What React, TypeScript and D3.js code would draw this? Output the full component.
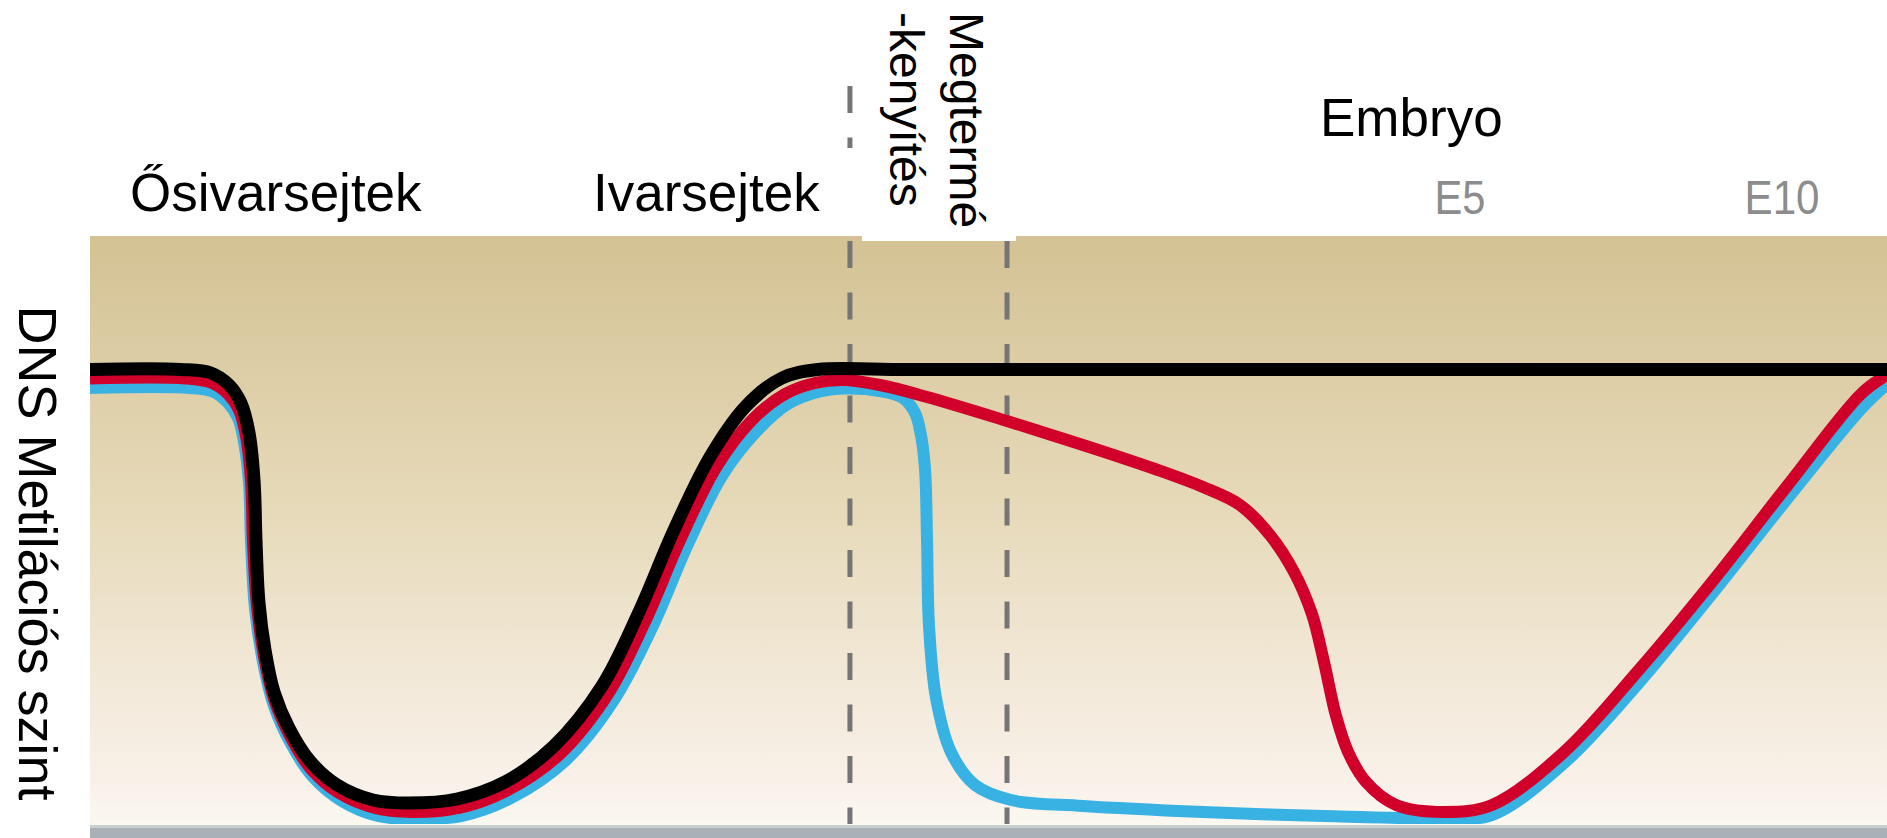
import React from "react";
import * as d3 from "d3";

const W = 1887;
const H = 838;

// ---- text / categories ----
const stageLabels = ["Ősivarsejtek", "Ivarsejtek", "Embryo"];
const fertLabel = ["Megtermé", "-kenyítés"];
const dayTicks = ["E5", "E10"];
const dayTickPos = [76.24, 94.16];
const yLabel = "DNS Metilációs szint";
const dividers = [42.29, 51.03];

// ---- series (x: developmental time 0-100, y: methylation level 0-100) ----
const blackX = [0, 5.06, 6.73, 7.74, 8.4, 8.85, 9.13, 9.24, 9.4, 9.74, 10.24, 11.07, 12.24, 13.75, 15.75, 17.75, 20.42, 23.09, 25.82, 28.49, 30.5, 32.5, 34.5, 36.51, 38.51, 40.51, 45.07, 100];
const blackY = [77.3, 77.3, 76.7, 74.66, 71.6, 66.5, 58.33, 47.96, 37.76, 29.59, 22.45, 16.33, 10.71, 6.63, 4.08, 3.57, 4.25, 7.14, 13.27, 23.47, 35.71, 50.0, 62.41, 71.09, 75.85, 77.3, 77.3, 77.3];

const redX = [0, 5.29, 6.79, 7.68, 8.29, 8.68, 8.96, 9.07, 9.29, 9.68, 10.24, 11.13, 12.3, 13.86, 15.86, 17.86, 20.53, 23.26, 26.15, 28.83, 30.88, 32.89, 34.89, 36.84, 38.68, 40.34, 41.85, 43.96, 46.58, 51.03, 55.26, 59.27, 61.94, 64.0, 65.66, 67.0, 68.0, 68.67, 69.34, 70.01, 71.01, 72.68, 75.35, 78.02, 82.03, 86.09, 90.26, 94.44, 98.61, 100];
const redY = [75.77, 75.77, 75.0, 73.13, 70.41, 65.99, 58.33, 47.96, 37.24, 28.57, 21.26, 14.97, 9.35, 5.27, 2.72, 2.04, 2.72, 5.78, 11.9, 22.11, 34.35, 48.64, 60.88, 68.71, 73.13, 75.0, 75.51, 74.66, 72.62, 68.54, 64.46, 60.37, 57.31, 54.25, 49.15, 42.86, 35.71, 27.55, 18.37, 12.24, 7.14, 3.23, 2.04, 3.23, 12.24, 25.85, 41.16, 57.48, 73.3, 76.36];

const blueX = [0, 5.56, 6.9, 7.68, 8.24, 8.57, 8.85, 8.96, 9.18, 9.63, 10.24, 11.19, 12.41, 14.02, 16.03, 17.97, 20.65, 23.43, 26.49, 29.16, 31.27, 33.28, 35.17, 37.06, 38.84, 40.51, 42.01, 43.96, 45.24, 45.91, 46.24, 46.47, 46.58, 46.69, 47.08, 47.91, 49.25, 51.25, 55.26, 61.94, 68.67, 75.35, 78.02, 82.03, 86.09, 90.26, 94.44, 98.61, 100];
const blueY = [74.15, 74.15, 73.47, 71.6, 69.05, 64.97, 57.99, 47.96, 36.73, 27.55, 20.07, 13.61, 7.99, 3.91, 1.36, 0.85, 1.36, 4.42, 10.88, 21.09, 33.33, 47.62, 59.18, 66.67, 71.43, 73.47, 74.06, 73.64, 72.45, 69.9, 66.16, 60.2, 48.13, 33.67, 21.43, 12.24, 6.63, 4.08, 3.06, 2.04, 1.36, 1.02, 1.53, 10.37, 23.64, 39.12, 55.27, 70.75, 74.83];

const PANEL = { left: 90, right: 1887, top: 236, bottom: 824 };
const FONT = "'Liberation Sans', Arial, Helvetica, sans-serif";

export default function App() {
  const x = d3.scaleLinear().domain([0, 100]).range([PANEL.left, PANEL.right]);
  const y = d3.scaleLinear().domain([0, 100]).range([PANEL.bottom, PANEL.top]);

  const line = d3
    .line<[number, number]>()
    .x((d) => x(d[0]))
    .y((d) => y(d[1]))
    .curve(d3.curveCatmullRom.alpha(0.5));

  const zip = (xs: number[], ys: number[]) =>
    xs.map((v, i) => [v, ys[i]] as [number, number]);

  const series = [
    { name: "blue", xs: blueX, ys: blueY, color: "#38b1e3", width: 12 },
    { name: "red", xs: redX, ys: redY, color: "#d1002b", width: 12 },
    { name: "black", xs: blackX, ys: blackY, color: "#000000", width: 13 },
  ];

  return (
    <svg
      width={W}
      height={H}
      style={{ position: "absolute", left: 0, top: 0, display: "block", background: "#ffffff" }}
    >
      <defs>
        <linearGradient id="bgGrad" x1="0" y1="0" x2="0" y2="1">
          <stop offset="0" stopColor="#d4c294" />
          <stop offset="0.45" stopColor="#e6d9b8" />
          <stop offset="0.8" stopColor="#f4ebdd" />
          <stop offset="0.92" stopColor="#f9f0e8" />
          <stop offset="1" stopColor="#fbf8f0" />
        </linearGradient>
        <clipPath id="plotClip">
          <rect x={PANEL.left} y={PANEL.top} width={PANEL.right - PANEL.left} height={PANEL.bottom - PANEL.top} />
        </clipPath>
      </defs>

      <rect
        x={PANEL.left}
        y={PANEL.top}
        width={PANEL.right - PANEL.left}
        height={PANEL.bottom - PANEL.top + 1}
        fill="url(#bgGrad)"
      />
      {/* white notch behind fertilisation label */}
      <rect x={862} y={PANEL.top} width={154} height={5} fill="#ffffff" />

      {/* dashed dividers */}
      {dividers.map((d, i) => (
        <line
          key={"div" + i}
          x1={x(d)}
          x2={x(d)}
          y1={241}
          y2={PANEL.bottom}
          stroke="#757575"
          strokeWidth={5}
          strokeDasharray="27 24.5"
        />
      ))}
      <line
        x1={x(dividers[0])}
        x2={x(dividers[0])}
        y1={86}
        y2={148}
        stroke="#757575"
        strokeWidth={5}
        strokeDasharray="27 24.5"
      />

      <g clipPath="url(#plotClip)">
        {series.map((s) => (
          <path
            key={s.name}
            d={line(zip(s.xs, s.ys)) || ""}
            fill="none"
            stroke={s.color}
            strokeWidth={s.width}
            strokeLinejoin="round"
          />
        ))}
      </g>

      {/* bottom bar */}
      <rect x={PANEL.left} y={825} width={PANEL.right - PANEL.left} height={3} fill="#c9ced1" />
      <rect x={PANEL.left} y={828} width={PANEL.right - PANEL.left} height={10} fill="#a9b1b7" />

      {/* stage labels */}
      <text x={130} y={211} fontFamily={FONT} fontSize={53} fill="#000">
        {stageLabels[0]}
      </text>
      <text x={593} y={211} fontFamily={FONT} fontSize={53} fill="#000">
        {stageLabels[1]}
      </text>
      <text x={1320} y={136} fontFamily={FONT} fontSize={53} fill="#000">
        {stageLabels[2]}
      </text>

      {/* day ticks */}
      {dayTicks.map((t, i) => (
        <text
          key={t}
          x={x(dayTickPos[i])}
          y={214}
          fontFamily={FONT}
          fontSize={48}
          fill="#8c8c8c"
          textAnchor="middle"
          textLength={i === 0 ? 51 : 75}
          lengthAdjust="spacingAndGlyphs"
        >
          {t}
        </text>
      ))}

      {/* rotated fertilisation label */}
      <text transform="translate(950,12) rotate(90)" fontFamily={FONT} fontSize={48} fill="#000">
        {fertLabel[0]}
      </text>
      <text transform="translate(890,12) rotate(90)" fontFamily={FONT} fontSize={48} fill="#000">
        {fertLabel[1]}
      </text>

      {/* y axis label */}
      <text
        transform="translate(19,553) rotate(90)"
        fontFamily={FONT}
        fontSize={54}
        fill="#000"
        textAnchor="middle"
      >
        {yLabel}
      </text>
    </svg>
  );
}
